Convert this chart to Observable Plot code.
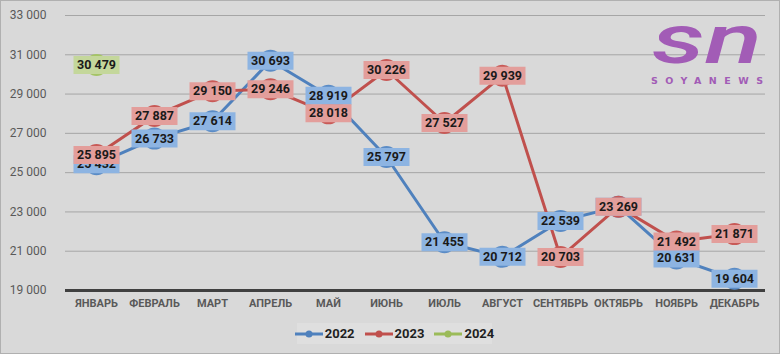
<!DOCTYPE html>
<html>
<head>
<meta charset="utf-8">
<script src="https://cdn.jsdelivr.net/npm/d3@7"></script>
<script src="https://cdn.jsdelivr.net/npm/@observablehq/plot@0.6"></script>
<style>
  html, body { margin: 0; padding: 0; background: #d9d9d9; }
  #wrap { position: relative; width: 780px; height: 354px; background: #d9d9d9; overflow: hidden; font-family: Roboto, "Noto Sans", sans-serif; }
  #frame { position: absolute; left: 0; top: 0; width: 778px; height: 352px; border: 1px solid #b0b0b0; pointer-events: none; }
  #legend { position: absolute; left: 297px; top: 323px; width: 195px; height: 21px; background: #dfdfdf; display: flex; align-items: center; justify-content: center; gap: 10px; font-weight: bold; font-size: 13px; color: #1f1f1f; }
  .item { display: flex; align-items: center; gap: 2px; }
  #logo { position: absolute; left: 630px; top: 0px; }
</style>
</head>
<body>
<div id="wrap">
  <div id="chart"></div>
  <div id="legend"></div>
  <svg id="logo" width="148" height="95">
    <text font-family="Roboto, sans-serif" fill="#a25cb6">
      <tspan x="22" y="63" font-style="italic" font-weight="500" font-size="68" textLength="110" lengthAdjust="spacingAndGlyphs">sn</tspan>
      <tspan x="21" y="84" font-family="DejaVu Sans, sans-serif" font-weight="bold" font-size="9.5" textLength="112" lengthAdjust="spacing">SOYANEWS</tspan>
    </text>
  </svg>
  <div id="frame"></div>
</div>
<script>
const months = ["ЯНВАРЬ", "ФЕВРАЛЬ", "МАРТ", "АПРЕЛЬ", "МАЙ", "ИЮНЬ", "ИЮЛЬ", "АВГУСТ", "СЕНТЯБРЬ", "ОКТЯБРЬ", "НОЯБРЬ", "ДЕКАБРЬ"];
const years = ["2022", "2023", "2024"];
const v2022 = [25432, 26733, 27614, 30693, 28919, 25797, 21455, 20712, 22539, 23269, 20631, 19604];
const v2023 = [25895, 27887, 29150, 29246, 28018, 30226, 27527, 29939, 20703, 23269, 21492, 21871];
const v2024 = [30479];
const yTicks = [19000, 21000, 23000, 25000, 27000, 29000, 31000, 33000];
const lineColors = ["#4f81bd", "#c0504d", "#9bbb59"];
const markerColors = ["#5b8cc6", "#c85a57", "#a5c466"];
const boxColors = ["#8db4e2", "#e39e9b", "#c4d79b"];

const seriesValues = [v2022, v2023, v2024];
const series = years.map((yr, i) => seriesValues[i].map((v, j) => ({ month: months[j], value: v, year: yr })));

const fmt = v => d3.format(",")(v).replace(/,/g, " ");

const boxSymbol = { draw(ctx) { ctx.rect(-23, -9, 46, 18); } };

const marks = [
  Plot.gridY(yTicks, { stroke: "#a6a6a6", strokeOpacity: 1 }),
  Plot.ruleY([19000], { stroke: "#404040", strokeWidth: 3 }),
  Plot.axisY(yTicks, { tickSize: 0, tickPadding: 19, tickFormat: fmt, fontSize: 12, fill: "#595959" }),
  Plot.axisX({ tickSize: 0, tickPadding: 9, fontSize: 11, fontWeight: "bold", fill: "#595959" })
];
series.forEach((s, i) => {
  marks.push(Plot.line(s, { x: "month", y: "value", stroke: lineColors[i], strokeWidth: 3 }));
  marks.push(Plot.dot(s, { x: "month", y: "value", r: 11, fill: markerColors[i], stroke: "none" }));
});
series.forEach((s, i) => {
  marks.push(Plot.dot(s, { x: "month", y: "value", symbol: boxSymbol, fill: boxColors[i], stroke: "none" }));
  marks.push(Plot.text(s, { x: "month", y: "value", text: d => fmt(d.value), fontSize: 12.5, fontWeight: "bold", fill: "#1a1a1a" }));
});

const chart = Plot.plot({
  width: 780,
  height: 316,
  marginLeft: 65,
  marginRight: 15,
  marginTop: 15,
  marginBottom: 26,
  style: { background: "transparent", fontFamily: "Roboto, 'Noto Sans', sans-serif" },
  x: { type: "point", domain: months, padding: 0.5, label: null },
  y: { domain: [19000, 33000], label: null },
  marks
});
document.getElementById("chart").appendChild(chart);

const legend = document.getElementById("legend");
years.forEach((yr, i) => {
  const item = document.createElement("div");
  item.className = "item";
  item.innerHTML = `<svg width="28" height="10"><line x1="0" y1="5" x2="28" y2="5" stroke="${lineColors[i]}" stroke-width="3"/><circle cx="14" cy="5" r="3.5" fill="${lineColors[i]}"/></svg><span>${yr}</span>`;
  legend.appendChild(item);
});
</script>
</body>
</html>
